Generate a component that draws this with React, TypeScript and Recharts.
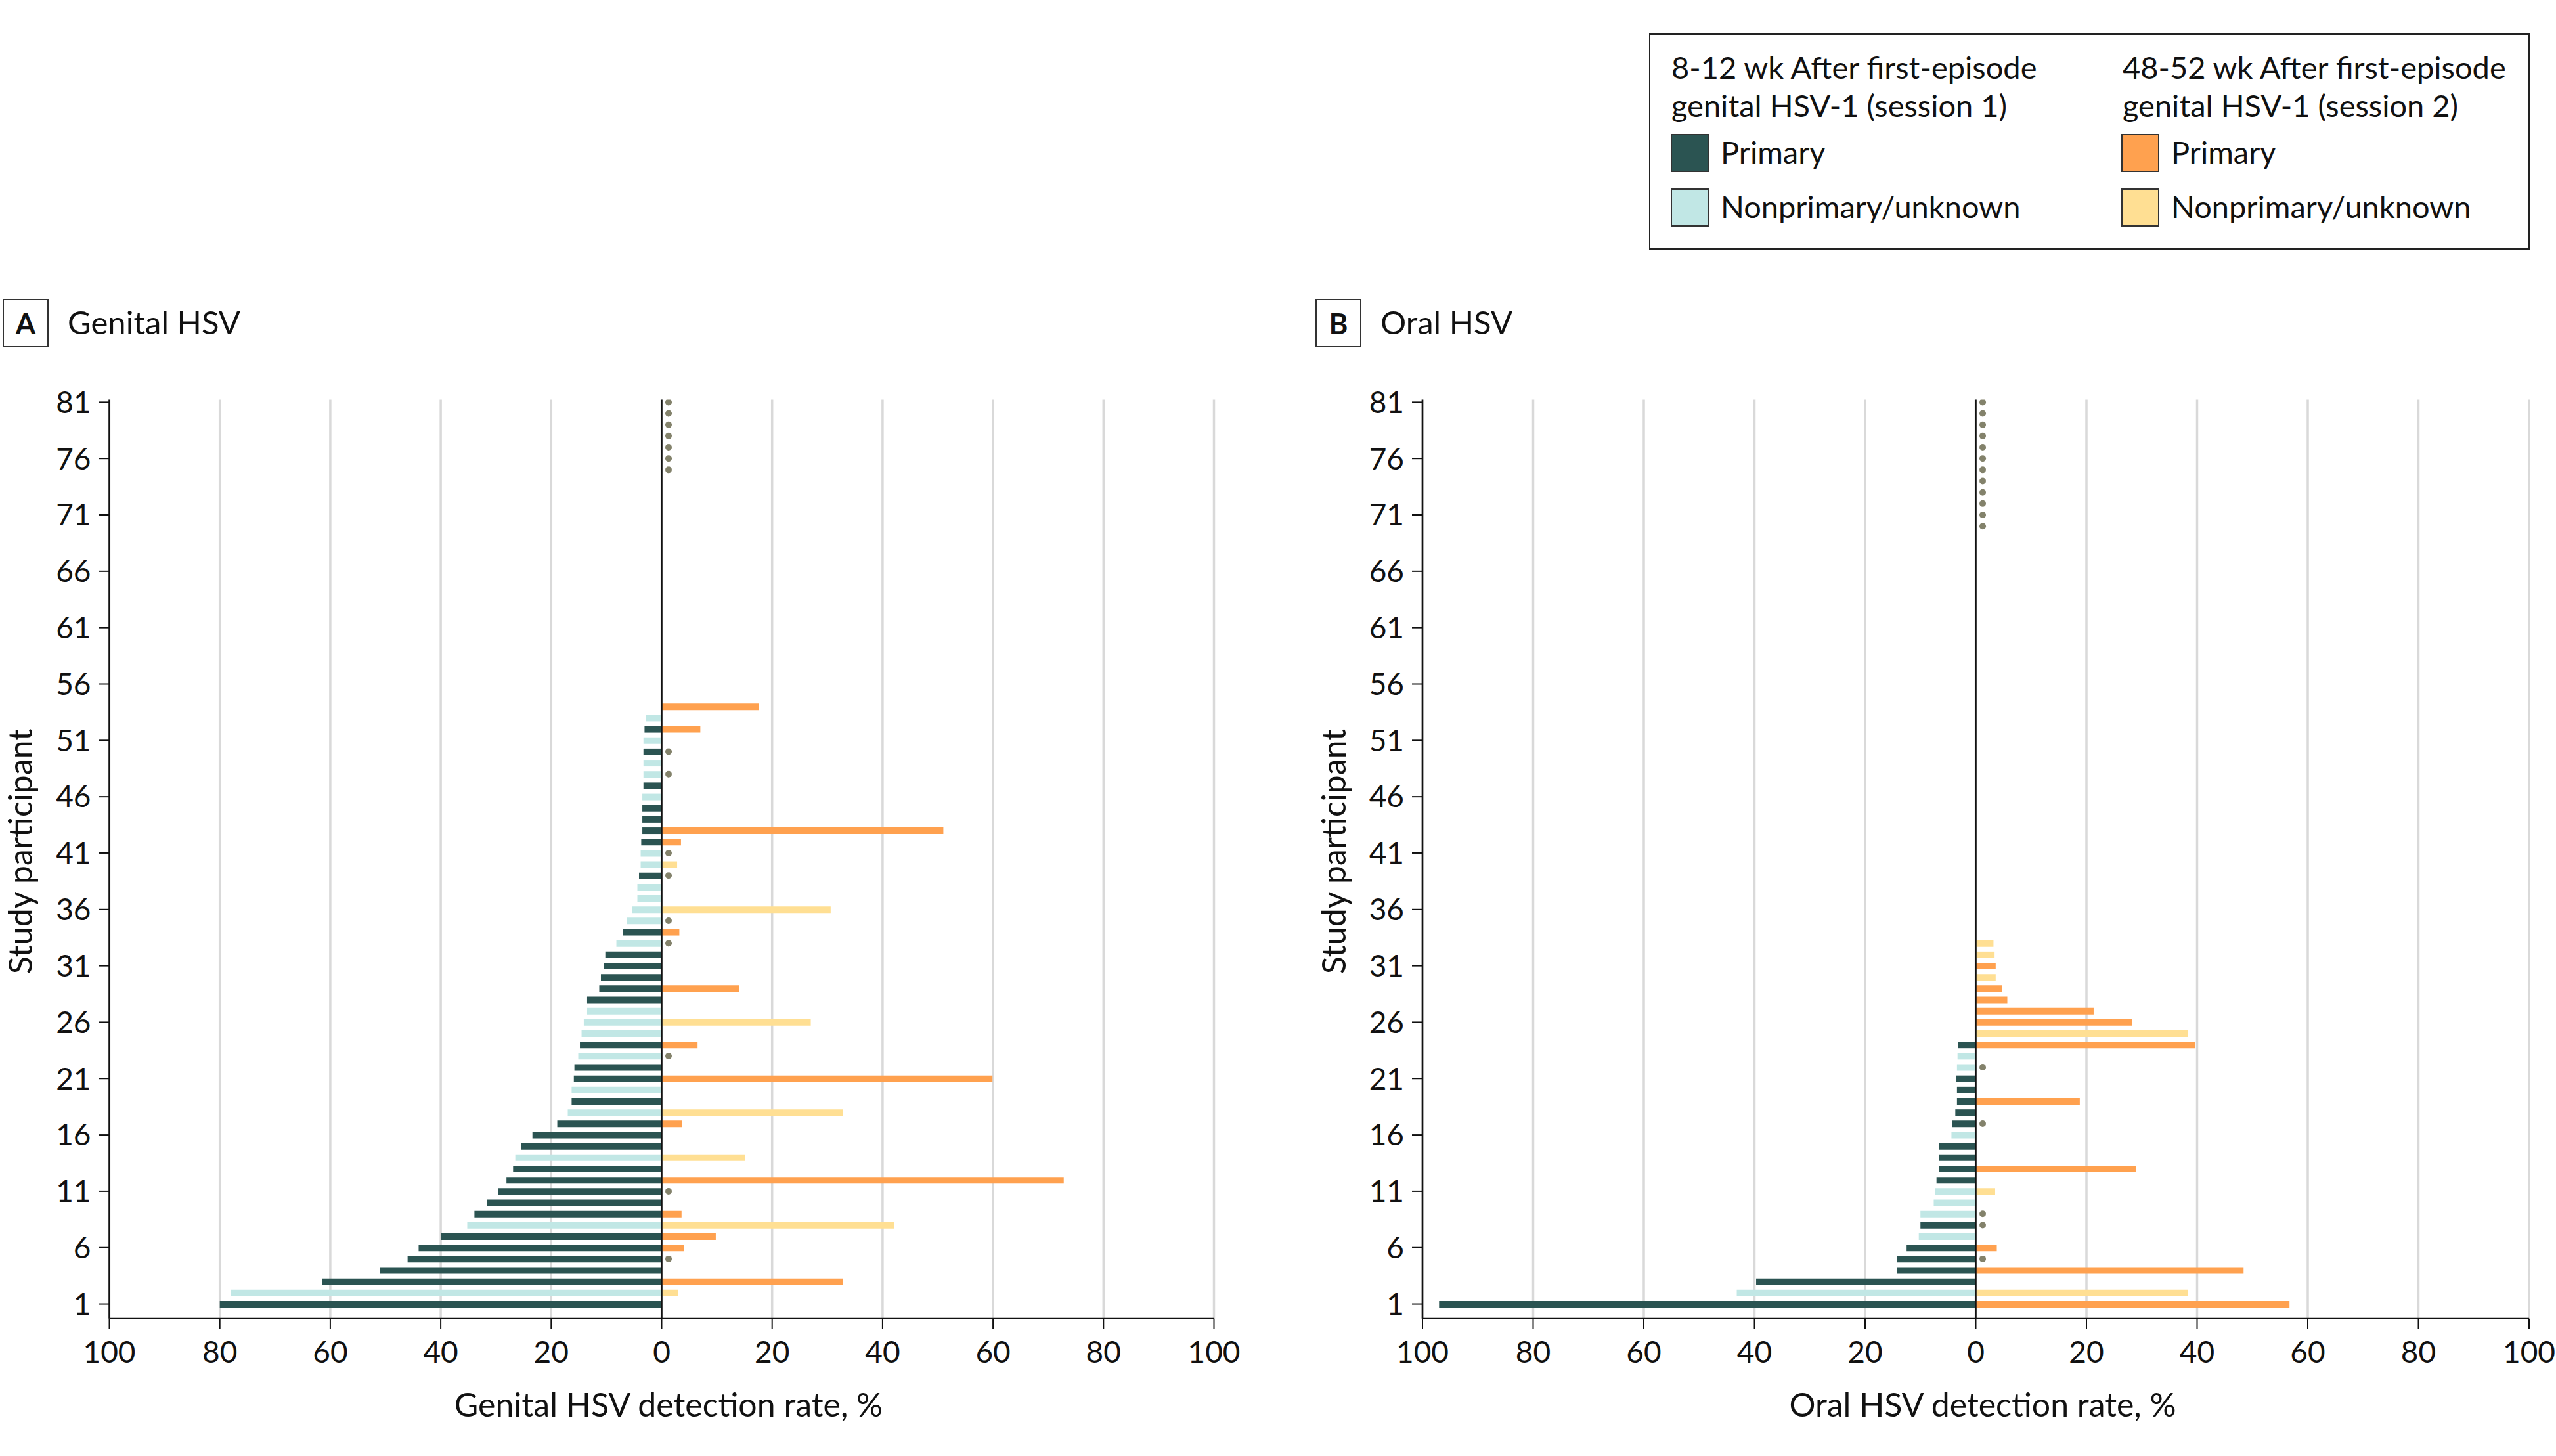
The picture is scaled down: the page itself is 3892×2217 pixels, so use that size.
import React from "react";
import {
  ComposedChart,
  Bar,
  Cell,
  Scatter,
  XAxis,
  YAxis,
  CartesianGrid,
  ReferenceLine,
} from "recharts";

const FONT = "Lato, 'Open Sans', sans-serif";
const DARK = "#2b5452";
const LIGHT = "#c1e7e5";
const ORANGE = "#ffa14f";
const YELLOW = "#ffdf93";
const DOT = "#83826b";
const GRID = "#d9d9d9";
const INK = "#111";

// participant index 1..81 (category positions)
const PARTICIPANTS = Array.from({ length: 81 }, (_, i) => i + 1);
const Y_TICKS = [1, 6, 11, 16, 21, 26, 31, 36, 41, 46, 51, 56, 61, 66, 71, 76, 81];
const X_TICKS = [-100, -80, -60, -40, -20, 0, 20, 40, 60, 80, 100];

// Genital HSV – session 1 (8-12 wk), participants 1..53
const genitalS1 = [
  80, 78, 61.5, 51, 46, 44, 40, 35.2, 33.9, 31.6,
  29.6, 28.1, 26.9, 26.5, 25.5, 23.4, 18.9, 17, 16.3, 16.3,
  15.9, 15.8, 15.1, 14.8, 14.5, 14.1, 13.5, 13.5, 11.3, 11.0,
  10.5, 10.2, 8.2, 7.0, 6.3, 5.4, 4.4, 4.4, 4.1, 3.8,
  3.8, 3.7, 3.5, 3.5, 3.5, 3.5, 3.3, 3.3, 3.3, 3.3,
  3.3, 3.1, 2.9,
];
// Genital HSV – session 2 (48-52 wk); 0 = sampled, no detection (dot)
const genitalS2 = [
  null, 3.0, 32.8, null, 0, 4.0, 9.8, 42.1, 3.6, null,
  0, 72.8, null, 15.1, null, null, 3.7, 32.8, null, null,
  59.9, null, 0, 6.5, null, 27.0, null, null, 14.0, null,
  null, null, 0, 3.2, 0, 30.6, null, null, 0, 2.8,
  0, 3.5, 51.0, null, null, null, null, 0, null, 0,
  null, 7.0, null, 17.6, null, null, null, null, null, null,
  null, null, null, null, null, null, null, null, null, null,
  null, null, null, null, 0, 0, 0, 0, 0, 0,
  0,
];
const genitalType = [
  "P", "N", "P", "P", "P", "P", "P", "N", "P", "P",
  "P", "P", "P", "N", "P", "P", "P", "N", "P", "N",
  "P", "P", "N", "P", "N", "N", "N", "P", "P", "P",
  "P", "P", "N", "P", "N", "N", "N", "N", "P", "N",
  "N", "P", "P", "P", "P", "N", "P", "N", "N", "P",
  "N", "P", "N", "P",
];

// Oral HSV – session 1, participants 1..24
const oralS1 = [
  97, 43.2, 39.7, 14.3, 14.3, 12.5, 10.3, 10.0, 10.0, 7.6,
  7.3, 7.1, 6.7, 6.7, 6.7, 4.4, 4.3, 3.7, 3.4, 3.4,
  3.5, 3.4, 3.3, 3.2,
];
const oralS2 = [
  56.7, 38.4, null, 48.4, 0, 3.8, null, 0, 0, null,
  3.5, null, 28.9, null, null, null, 0, null, 18.8, null,
  null, 0, null, 39.6, 38.4, 28.3, 21.3, 5.7, 4.8, 3.6,
  3.6, 3.4, 3.2, null, null, null, null, null, null, null,
  null, null, null, null, null, null, null, null, null, null,
  null, null, null, null, null, null, null, null, null, null,
  null, null, null, null, null, null, null, null, null, 0,
  0, 0, 0, 0, 0, 0, 0, 0, 0, 0,
  0,
];
const oralType = [
  "P", "N", "P", "P", "P", "P", "N", "P", "N", "N",
  "N", "P", "P", "P", "P", "N", "P", "P", "P", "P",
  "P", "N", "N", "P", "N", "P", "P", "P", "P", "N",
  "P", "N", "N",
];

const DOT_X = 1.25; // where "no detection" markers sit, just right of 0

type Row = { p: number; s1: number | null; s2: number | null; type: string };

function makeRows(s1: (number | null)[], s2: (number | null)[], types: string[]): Row[] {
  return PARTICIPANTS.map((p, i) => {
    const a = s1[i];
    const b = s2[i];
    return {
      p,
      s1: a != null ? -a : null,
      s2: b != null && b > 0 ? b : null,
      type: types[i] ?? "P",
    };
  });
}

function makeDots(s2: (number | null)[]) {
  return PARTICIPANTS.filter((_, i) => s2[i] === 0).map((p) => ({ p, x: DOT_X }));
}

const AX_TICK = { fill: INK, fontSize: 46, fontFamily: FONT } as const;

function Panel({
  rows,
  dots,
  left,
  width,
  marginLeft,
  marginRight,
}: {
  rows: Row[];
  dots: { p: number; x: number }[];
  left: number;
  width: number;
  marginLeft: number;
  marginRight: number;
}) {
  return (
    <div style={{ position: "absolute", left, top: 0 }}>
      <ComposedChart
        width={width}
        height={2217}
        layout="vertical"
        data={rows}
        stackOffset="sign"
        margin={{ top: 608.6, right: marginRight, bottom: 109.3, left: marginLeft }}
      >
        <CartesianGrid vertical horizontal={false} stroke={GRID} strokeWidth={3.5} />
        <XAxis
          type="number"
          domain={[-100, 100]}
          ticks={X_TICKS}
          interval={0}
          allowDataOverflow
          tickFormatter={(v: number) => String(Math.abs(v))}
          tick={AX_TICK}
          tickSize={16}
          tickMargin={19}
          height={100}
          axisLine={{ stroke: INK, strokeWidth: 2 }}
          tickLine={{ stroke: INK, strokeWidth: 2 }}
        />
        <YAxis
          type="number"
          dataKey="p"
          domain={[-0.29, 81.22]}
          reversed
          ticks={Y_TICKS}
          interval={0}
          allowDataOverflow
          tick={AX_TICK}
          tickSize={16}
          tickMargin={12}
          width={120}
          axisLine={{ stroke: INK, strokeWidth: 2.5 }}
          tickLine={{ stroke: INK, strokeWidth: 2 }}
        />
        <Bar dataKey="s1" stackId="s" barSize={10} isAnimationActive={false}>
          {rows.map((r) => (
            <Cell key={r.p} fill={r.type === "P" ? DARK : LIGHT} />
          ))}
        </Bar>
        <Bar dataKey="s2" stackId="s" barSize={10} isAnimationActive={false}>
          {rows.map((r) => (
            <Cell key={r.p} fill={r.type === "P" ? ORANGE : YELLOW} />
          ))}
        </Bar>
        <ReferenceLine x={0} stroke={INK} strokeWidth={2.5} />
        <Scatter
          data={dots}
          dataKey="x"
          isAnimationActive={false}
          shape={(props: any) => <circle cx={props.cx} cy={props.cy} r={5} fill={DOT} />}
        />
      </ComposedChart>
    </div>
  );
}

const txt = (fs: number): React.CSSProperties => ({
  position: "absolute",
  fontSize: fs,
  lineHeight: 1,
  whiteSpace: "nowrap",
  color: INK,
});

function PanelTitle({ letter, title, x }: { letter: string; title: string; x: number }) {
  return (
    <>
      <div
        style={{
          position: "absolute",
          left: x,
          top: 455,
          width: 66,
          height: 70,
          border: "2.5px solid #333",
          display: "flex",
          alignItems: "center",
          justifyContent: "center",
          fontWeight: 700,
          fontSize: 44,
          color: INK,
        }}
      >
        {letter}
      </div>
      <div style={{ ...txt(49), left: x + 99, top: 492 - 26 }}>{title}</div>
    </>
  );
}

function YTitle({ cx }: { cx: number }) {
  return (
    <div
      style={{
        ...txt(50),
        left: cx,
        top: 1298,
        transform: "translate(-50%, -53%) rotate(-90deg)",
      }}
    >
      Study participant
    </div>
  );
}

function XTitle({ cx, label }: { cx: number; label: string }) {
  return (
    <div style={{ ...txt(50), left: cx, top: 2139 - 26.5, transform: "translateX(-50%)" }}>{label}</div>
  );
}

function Swatch({ x, y, color }: { x: number; y: number; color: string }) {
  return (
    <div
      style={{
        position: "absolute",
        left: x,
        top: y,
        width: 54,
        height: 54,
        background: color,
        border: "2px solid #333",
      }}
    />
  );
}

function Legend() {
  const fs = 47;
  const c = (y: number) => y - 0.53 * fs;
  return (
    <>
      <div
        style={{
          position: "absolute",
          left: 2511,
          top: 51,
          width: 1337,
          height: 325,
          border: "2px solid #222",
        }}
      />
      <div style={{ ...txt(fs), left: 2545, top: c(104) }}>8-12 wk After first-episode</div>
      <div style={{ ...txt(fs), left: 2545, top: c(162) }}>genital HSV-1 (session 1)</div>
      <Swatch x={2544} y={204} color={DARK} />
      <div style={{ ...txt(fs), left: 2620, top: c(233) }}>Primary</div>
      <Swatch x={2544} y={287} color={LIGHT} />
      <div style={{ ...txt(fs), left: 2620, top: c(316) }}>Nonprimary/unknown</div>

      <div style={{ ...txt(fs), left: 3232, top: c(104) }}>48-52 wk After first-episode</div>
      <div style={{ ...txt(fs), left: 3232, top: c(162) }}>genital HSV-1 (session 2)</div>
      <Swatch x={3230} y={204} color={ORANGE} />
      <div style={{ ...txt(fs), left: 3306, top: c(233) }}>Primary</div>
      <Swatch x={3230} y={287} color={YELLOW} />
      <div style={{ ...txt(fs), left: 3306, top: c(316) }}>Nonprimary/unknown</div>
    </>
  );
}

export default function App() {
  const gRows = makeRows(genitalS1, genitalS2, genitalType);
  const gDots = makeDots(genitalS2);
  const oRows = makeRows(oralS1, oralS2, oralType);
  const oDots = makeDots(oralS2);
  return (
    <div
      style={{
        position: "absolute",
        left: 0,
        top: 0,
        width: 3892,
        height: 2217,
        background: "#fff",
        fontFamily: FONT,
        overflow: "hidden",
      }}
    >
      <Legend />
      <PanelTitle letter="A" title="Genital HSV" x={4} />
      <PanelTitle letter="B" title="Oral HSV" x={2003} />
      <YTitle cx={30} />
      <YTitle cx={2030} />
      <Panel rows={gRows} dots={gDots} left={0} width={1900} marginLeft={46.5} marginRight={51.5} />
      <Panel rows={oRows} dots={oDots} left={2000} width={1892} marginLeft={46} marginRight={41} />
      <XTitle cx={1018} label="Genital HSV detection rate, %" />
      <XTitle cx={3019} label="Oral HSV detection rate, %" />
    </div>
  );
}
